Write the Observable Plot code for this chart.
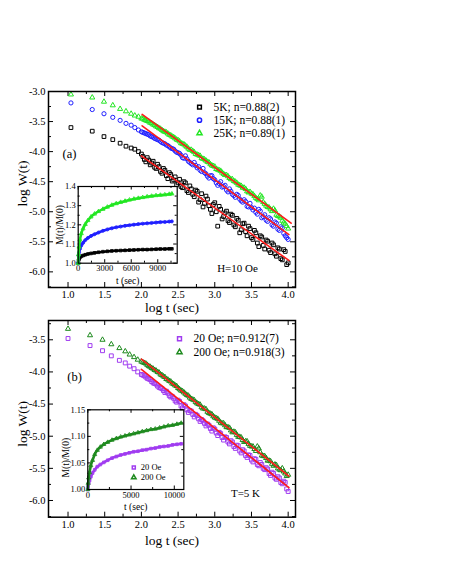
<!DOCTYPE html>
<html><head><meta charset="utf-8">
<script src="https://cdn.jsdelivr.net/npm/d3@7"></script>
<script src="https://cdn.jsdelivr.net/npm/@observablehq/plot@0.6"></script>
<style>
body{margin:0;background:#fff;}
#wrap{position:relative;width:450px;height:582px;overflow:hidden;background:#fff;}
#wrap svg{position:absolute;}
</style></head><body><div id="wrap"></div>
<script>
// ---------- Panel (a) main: log W(t) vs log t ----------
const logT_a = [1.04,1.33,1.49,1.61,1.71,1.79,1.86,1.91,1.96,
  2.00,2.04,2.08,2.12,2.16,2.20,2.24,2.28,2.32,2.36,2.40,2.44,2.48,2.52,2.56,2.60,2.64,2.68,2.72,2.76,2.80,2.84,2.88,2.92,2.96,
  3.00,3.04,3.08,3.12,3.16,3.20,3.24,3.28,3.32,3.36,3.40,3.44,3.48,3.52,3.56,3.60,3.64,3.68,3.72,3.76,3.80,3.84,3.88,3.92,3.96,4.00];
const logW_5K = [-3.60,-3.66,-3.75,-3.80,-3.86,-3.91,-3.94,-3.96,-4.00,
  -4.04,-4.13,-4.10,-4.22,-4.16,-4.28,-4.25,-4.36,-4.31,-4.45,-4.38,-4.47,-4.55,-4.46,-4.60,-4.52,-4.68,-4.62,-4.75,-4.66,-4.80,-4.92,-4.74,-4.90,-5.03,
  -4.85,-5.24,-4.96,-5.08,-4.99,-5.18,-5.06,-5.25,-5.14,-5.30,-5.19,-5.40,-5.28,-5.46,-5.35,-5.58,-5.42,-5.62,-5.49,-5.68,-5.55,-5.74,-5.62,-5.80,-5.66,-5.85];
const logW_15K = [-3.19,-3.30,-3.37,-3.43,-3.48,-3.53,-3.56,-3.60,-3.64,
  -3.67,-3.69,-3.71,-3.74,-3.76,-3.79,-3.81,-3.85,-3.87,-3.90,-3.94,-3.96,-4.01,-4.03,-4.10,-4.07,-4.16,-4.20,-4.18,-4.27,-4.31,-4.28,-4.37,-4.44,-4.40,
  -4.47,-4.56,-4.50,-4.58,-4.64,-4.62,-4.71,-4.76,-4.73,-4.82,-4.80,-4.91,-4.86,-4.97,-5.01,-4.96,-5.10,-5.05,-5.16,-5.12,-5.24,-5.19,-5.31,-5.27,-5.40,-5.46];
const logW_25K = [-3.05,-3.10,-3.17,-3.23,-3.29,-3.33,-3.37,-3.40,-3.42,
  -3.45,-3.47,-3.49,-3.52,-3.55,-3.58,-3.61,-3.64,-3.67,-3.70,-3.73,-3.76,-3.80,-3.83,-3.87,-3.90,-3.95,-3.97,-4.01,-4.05,-4.07,-4.12,-4.15,-4.18,-4.23,
  -4.25,-4.30,-4.32,-4.37,-4.39,-4.44,-4.46,-4.50,-4.55,-4.57,-4.60,-4.66,-4.67,-4.71,-4.77,-4.81,-4.75,-4.87,-4.92,-4.96,-4.95,-5.05,-5.08,-5.15,-5.20,-5.28];
// in-between measurement times (dense region)
const logT_a2 = [2.02,2.06,2.10,2.14,2.18,2.22,2.26,2.30,2.34,2.38,2.42,2.46,2.50,2.54,2.58,2.62,2.66,2.70,2.74,2.78,2.82,2.86,2.90,2.94,2.98,
  3.02,3.06,3.10,3.14,3.18,3.22,3.26,3.30,3.34,3.38,3.42,3.46,3.50,3.54,3.58,3.62,3.66,3.70,3.74,3.78,3.82,3.86,3.90,3.94,3.98];
const logW_5K_2 = [-4.08,-4.17,-4.14,-4.19,-4.26,-4.21,-4.33,-4.28,-4.40,-4.35,-4.49,-4.42,-4.52,-4.58,-4.50,-4.65,-4.57,-4.71,-4.64,-4.84,-4.70,-4.86,-4.79,-4.96,-4.88,
  -5.00,-4.91,-5.12,-5.02,-5.15,-5.04,-5.22,-5.11,-5.35,-5.20,-5.33,-5.24,-5.43,-5.31,-5.52,-5.40,-5.56,-5.47,-5.64,-5.52,-5.70,-5.60,-5.78,-5.63,-5.88];
const logW_15K_2 = [-3.68,-3.70,-3.72,-3.75,-3.78,-3.80,-3.83,-3.86,-3.89,-3.92,-3.95,-3.99,-4.02,-4.06,-4.11,-4.12,-4.18,-4.22,-4.23,-4.25,-4.33,-4.35,-4.41,-4.40,-4.45,
  -4.52,-4.53,-4.59,-4.56,-4.67,-4.66,-4.73,-4.71,-4.79,-4.84,-4.83,-4.92,-4.93,-4.94,-5.04,-4.99,-5.08,-5.14,-5.10,-5.22,-5.17,-5.29,-5.25,-5.36,-5.43];
const logW_25K_2 = [-3.45,-3.48,-3.50,-3.53,-3.56,-3.59,-3.62,-3.66,-3.68,-3.72,-3.75,-3.78,-3.81,-3.86,-3.88,-3.92,-3.97,-3.99,-4.04,-4.06,-4.11,-4.13,-4.17,-4.21,-4.24,
  -4.29,-4.31,-4.35,-4.39,-4.41,-4.46,-4.49,-4.52,-4.56,-4.60,-4.62,-4.68,-4.70,-4.74,-4.79,-4.73,-4.84,-4.90,-4.93,-4.99,-4.98,-5.07,-5.10,-5.18,-5.24];
// fitted straight lines (end points)
const fit5K_x = [2.00, 4.01],  fit5K_y = [-4.07, -5.81];
const fit15K_x = [2.01, 4.01], fit15K_y = [-3.57, -5.38];
const fit25K_x = [2.01, 4.04], fit25K_y = [-3.38, -5.19];
const legend_a = ["5K; n=0.88(2)", "15K; n=0.88(1)", "25K; n=0.89(1)"];

// ---------- Panel (a) inset: M(t)/M(0) vs t ----------
const tIn_a = [0,40,100,200,350,550,800,1100,1450,1850,2300,2800,3300,3800,4300,4800,5300,5800,6300,6800,7300,7800,8300,8800,9300,9800,10300,10600];
const M_5K  = [1.000,1.015,1.022,1.030,1.036,1.040,1.044,1.048,1.051,1.054,1.057,1.060,1.062,1.064,1.065,1.066,1.067,1.068,1.069,1.070,1.071,1.071,1.072,1.073,1.074,1.074,1.075,1.075];
const M_15K = [1.000,1.040,1.056,1.075,1.092,1.106,1.120,1.132,1.142,1.151,1.160,1.169,1.176,1.182,1.187,1.191,1.195,1.198,1.201,1.204,1.206,1.208,1.210,1.212,1.214,1.215,1.217,1.218];
const M_25K = [1.000,1.045,1.085,1.122,1.155,1.180,1.203,1.223,1.242,1.257,1.270,1.282,1.293,1.303,1.311,1.318,1.324,1.330,1.335,1.339,1.343,1.347,1.350,1.353,1.355,1.357,1.360,1.362];

// ---------- Panel (b) main ----------
const logT_b = [1.00,1.30,1.47,1.59,1.70,1.78,1.84,1.90,1.95,
  2.00,2.04,2.08,2.12,2.16,2.20,2.24,2.28,2.32,2.36,2.40,2.44,2.48,2.52,2.56,2.60,2.64,2.68,2.72,2.76,2.80,2.84,2.88,2.92,2.96,
  3.00,3.04,3.08,3.12,3.16,3.20,3.24,3.28,3.32,3.36,3.40,3.44,3.48,3.52,3.56,3.60,3.64,3.68,3.72,3.76,3.80,3.84,3.88,3.92,3.96,4.00];
const logW_20Oe = [-3.48,-3.59,-3.67,-3.75,-3.82,-3.86,-3.91,-3.95,-4.00,
  -4.04,-4.06,-4.10,-4.12,-4.17,-4.19,-4.24,-4.26,-4.32,-4.33,-4.39,-4.41,-4.47,-4.46,-4.56,-4.53,-4.63,-4.61,-4.70,-4.68,-4.77,-4.76,-4.84,-4.83,-4.92,
  -4.89,-4.99,-4.96,-5.06,-5.02,-5.12,-5.09,-5.19,-5.15,-5.26,-5.23,-5.33,-5.30,-5.40,-5.36,-5.46,-5.44,-5.52,-5.51,-5.61,-5.58,-5.67,-5.65,-5.74,-5.72,-5.86];
const logW_200Oe = [-3.33,-3.43,-3.50,-3.57,-3.63,-3.68,-3.73,-3.77,-3.81,
  -3.84,-3.86,-3.89,-3.92,-3.95,-3.98,-4.01,-4.05,-4.08,-4.12,-4.15,-4.19,-4.22,-4.27,-4.30,-4.34,-4.37,-4.42,-4.44,-4.49,-4.51,-4.57,-4.58,-4.64,-4.66,
  -4.71,-4.73,-4.79,-4.80,-4.86,-4.87,-4.94,-4.94,-5.01,-5.02,-5.09,-5.08,-5.15,-5.16,-5.23,-5.19,-5.30,-5.31,-5.38,-5.39,-5.46,-5.45,-5.52,-5.50,-5.58,-5.60];
const logT_b2 = logT_a2.slice();
const logW_20Oe_2 = [-4.05,-4.08,-4.11,-4.15,-4.18,-4.22,-4.25,-4.29,-4.30,-4.37,-4.38,-4.45,-4.44,-4.53,-4.51,-4.59,-4.60,-4.66,-4.66,-4.73,-4.74,-4.80,-4.81,-4.88,-4.87,
  -4.95,-4.94,-5.02,-5.01,-5.09,-5.07,-5.16,-5.14,-5.23,-5.21,-5.30,-5.29,-5.37,-5.35,-5.44,-5.41,-5.50,-5.49,-5.58,-5.56,-5.65,-5.63,-5.72,-5.70,-5.82];
const logW_200Oe_2 = [-3.85,-3.87,-3.91,-3.94,-3.97,-4.00,-4.04,-4.07,-4.11,-4.14,-4.18,-4.21,-4.25,-4.29,-4.32,-4.36,-4.40,-4.43,-4.47,-4.50,-4.55,-4.57,-4.62,-4.65,-4.69,
  -4.72,-4.76,-4.80,-4.83,-4.86,-4.91,-4.93,-4.98,-5.01,-5.06,-5.08,-5.12,-5.16,-5.20,-5.16,-5.25,-5.31,-5.34,-5.38,-5.43,-5.44,-5.50,-5.53,-5.55,-5.62];
const fit20_x = [2.00, 4.01],  fit20_y = [-3.96, -5.80];
const fit200_x = [2.00, 4.01], fit200_y = [-3.80, -5.62];
const legend_b = ["20 Oe; n=0.912(7)", "200 Oe; n=0.918(3)"];

// ---------- Panel (b) inset ----------
const tIn_b = [0,40,100,200,350,550,800,1100,1450,1850,2300,2800,3300,3800,4300,4800,5300,5800,6300,6800,7300,7800,8300,8800,9300,9800,10300,10800];
const M_20Oe  = [1.000,1.006,1.011,1.017,1.024,1.031,1.037,1.043,1.047,1.051,1.055,1.059,1.062,1.065,1.067,1.069,1.071,1.072,1.074,1.075,1.077,1.078,1.080,1.081,1.082,1.084,1.085,1.086];
const M_200Oe = [1.000,1.012,1.022,1.032,1.045,1.055,1.066,1.074,1.080,1.085,1.089,1.093,1.096,1.099,1.101,1.103,1.105,1.107,1.109,1.111,1.113,1.114,1.116,1.118,1.120,1.121,1.123,1.125];
const legendIn_b = ["20 Oe", "200 Oe"];

// axis ticks
const xMain = [1.0,1.5,2.0,2.5,3.0,3.5,4.0], xMainMinor = [1.25,1.75,2.25,2.75,3.25,3.75];
const yMain_a = [-6.0,-5.5,-5.0,-4.5,-4.0,-3.5,-3.0];
const yMain_b = [-6.0,-5.5,-5.0,-4.5,-4.0,-3.5];
const yMinor = [-6.25,-5.75,-5.25,-4.75,-4.25,-3.75,-3.25];
const xIn_a = [0,3000,6000,9000], xIn_aMinor = [1500,4500,7500,10500];
const yIn_a = [1.0,1.1,1.2,1.3,1.4], yIn_aMinor = [1.05,1.15,1.25,1.35];
const xIn_b = [0,5000,10000], xIn_bMinor = [2500,7500];
const yIn_b = [1.00,1.05,1.10,1.15], yIn_bMinor = [1.025,1.075,1.125];

// ---------- drawing ----------
const FONT = '"Liberation Serif","Times New Roman",serif';
const C = {k:"#000000", b:"#1f1fff", g:"#22e622", red:"#ff1a1a", pu:"#a03cf0", dg:"#1e8a1e"};
const wrap = document.getElementById("wrap");
function place(svg, left, top){ svg.style.left = left+"px"; svg.style.top = top+"px"; wrap.appendChild(svg); }

function tickMarks(W, H, xMaj, xMin, yMaj, yMin, L, l){
  return [
    Plot.tickX(xMaj, {x:d=>d, insetTop:H-L, stroke:"#000"}),
    Plot.tickX(xMaj, {x:d=>d, insetBottom:H-L, stroke:"#000"}),
    Plot.tickX(xMin, {x:d=>d, insetTop:H-l, stroke:"#000"}),
    Plot.tickX(xMin, {x:d=>d, insetBottom:H-l, stroke:"#000"}),
    Plot.tickY(yMaj, {y:d=>d, insetRight:W-L, stroke:"#000"}),
    Plot.tickY(yMaj, {y:d=>d, insetLeft:W-L, stroke:"#000"}),
    Plot.tickY(yMin, {y:d=>d, insetRight:W-l, stroke:"#000"}),
    Plot.tickY(yMin, {y:d=>d, insetLeft:W-l, stroke:"#000"})
  ];
}
function txt(s, o){ return Plot.text([s], {text:d=>d, fill:"#000", textAnchor:"middle", lineAnchor:"middle", ...o}); }

function mainPanel(o){
  const W = o.width - o.ml - o.mr, H = o.height - o.mt - o.mb;
  const marks = [
    ...tickMarks(W, H, xMain, xMainMinor, o.yTicks, yMinor, 5, 3),
    Plot.axisX(xMain, {tickSize:0, tickPadding:3, tickFormat:d=>d.toFixed(1), fontSize:10.5, label:null}),
    Plot.axisY(o.yTicks, {tickSize:0, tickPadding:3, tickFormat:d=>d.toFixed(1), fontSize:10.5, label:null}),
  ];
  o.series.forEach(s=>{
    marks.push(Plot.dot(o.xs, {x:o.xs, y:s.y, symbol:s.symbol, stroke:s.color, fill:"none", r:s.r, strokeWidth:1}));
    marks.push(Plot.dot(o.xs2, {x:o.xs2, y:s.y2, symbol:s.symbol, stroke:s.color, fill:"none", r:s.r, strokeWidth:1}));
  });
  o.fits.forEach(f=>{
    marks.push(Plot.line(f.x, {x:f.x, y:f.y, stroke:C.red, strokeWidth:1.6}));
  });
  o.series.forEach((s,i)=>{
    marks.push(Plot.dot([0], {frameAnchor:"top-left", dx:o.legX, dy:o.legY + i*o.legStep, symbol:s.symbol, stroke:s.color, fill:"none", r:s.r}));
    marks.push(txt(o.legend[i], {frameAnchor:"top-left", dx:o.legX+14, dy:o.legY + i*o.legStep, textAnchor:"start", fontSize:11.5}));
  });
  marks.push(txt(o.tag, {frameAnchor:"top-left", dx:o.tagX, dy:o.tagY, fontSize:12.5}));
  marks.push(txt(o.note, {frameAnchor:"top-left", dx:o.noteX, dy:o.noteY, fontSize:11}));
  marks.push(txt("log W(t)", {frameAnchor:"left", rotate:-90, dx:-26, dy:o.yTitleDy, fontSize:13.5}));
  marks.push(txt("log t (sec)", {frameAnchor:"bottom", dy:o.xTitleDy, fontSize:13.5}));
  marks.push(Plot.frame({stroke:"#000", strokeWidth:1.5}));
  return Plot.plot({
    width:o.width, height:o.height, marginLeft:o.ml, marginRight:o.mr, marginTop:o.mt, marginBottom:o.mb,
    x:{domain:[0.734,4.10]}, y:{domain:o.yDomain},
    style:{fontFamily:FONT, background:"transparent", overflow:"visible", color:"#000"},
    marks
  });
}

function inset(o){
  const W = o.width - o.ml - o.mr, H = o.height - o.mt - o.mb;
  const marks = [
    Plot.frame({fill:"#fff", stroke:"none"}),
    ...tickMarks(W, H, o.xT, o.xTm, o.yT, o.yTm, 3.5, 2),
    Plot.axisX(o.xT, {tickSize:0, tickPadding:2, tickFormat:d=>String(d), fontSize:8.5, label:null}),
    Plot.axisY(o.yT, {tickSize:0, tickPadding:2.5, tickFormat:d=>d.toFixed(o.dec), fontSize:8.5, label:null}),
  ];
  o.series.forEach(s=>{
    marks.push(Plot.line(o.t, {x:o.t, y:s.y, stroke:s.color, strokeWidth:2.6, curve:"monotone-x"}));
    marks.push(Plot.dot(o.t, {x:o.t, y:s.y, symbol:s.symbol, stroke:s.color, fill:"none", r:1.5, strokeWidth:0.9}));
  });
  marks.push(txt("t (sec)", {frameAnchor:"bottom", dy:o.xTitleDy, fontSize:9.5}));
  marks.push(txt("M(t)/M(0)", {frameAnchor:"left", rotate:-90, dx:o.yTitleDx, dy:o.yTitleDy, fontSize:9.5}));
  if (o.legend) o.legend.forEach((l,i)=>{
    const s = o.series[i];
    marks.push(Plot.dot([0], {frameAnchor:"top-left", dx:o.legX, dy:o.legY + i*10, symbol:s.symbol, stroke:s.color, fill:"none", r:1.7}));
    marks.push(txt(l, {frameAnchor:"top-left", dx:o.legX+7, dy:o.legY + i*10, textAnchor:"start", fontSize:8.5}));
  });
  marks.push(Plot.frame({stroke:"#000", strokeWidth:1.2}));
  return Plot.plot({
    width:o.width, height:o.height, marginLeft:o.ml, marginRight:o.mr, marginTop:o.mt, marginBottom:o.mb,
    x:{domain:o.xDomain}, y:{domain:o.yDomain},
    style:{fontFamily:FONT, background:"transparent", overflow:"visible", color:"#000"},
    marks
  });
}

// panel (a)
place(mainPanel({
  width:450, height:320, ml:48, mr:155, mt:91, mb:33, yDomain:[-6.26,-3.0], yTicks:yMain_a, xs:logT_a, xs2:logT_a2,
  series:[{y:logW_5K, y2:logW_5K_2, symbol:"square", color:C.k, r:2.1},{y:logW_15K, y2:logW_15K_2, symbol:"circle", color:C.b, r:2.1},{y:logW_25K, y2:logW_25K_2, symbol:"triangle", color:C.g, r:1.9}],
  fits:[{x:fit5K_x, y:fit5K_y},{x:fit15K_x, y:fit15K_y},{x:fit25K_x, y:fit25K_y}],
  legend:legend_a, legX:151, legY:15.7, legStep:13,
  tag:"(a)", tagX:21, tagY:62, note:"H=10 Oe", noteX:189, noteY:177,
  yTitleDy:-6, xTitleDy:20
}), 0, 0);

// panel (b)
place(mainPanel({
  width:450, height:260, ml:48, mr:155, mt:20, mb:43.3, yDomain:[-6.26,-3.2], yTicks:yMain_b, xs:logT_b, xs2:logT_b2,
  series:[{y:logW_20Oe, y2:logW_20Oe_2, symbol:"square", color:C.pu, r:2.2},{y:logW_200Oe, y2:logW_200Oe_2, symbol:"triangle", color:C.dg, r:1.9}],
  fits:[{x:fit20_x, y:fit20_y},{x:fit200_x, y:fit200_y}],
  legend:legend_b, legX:131, legY:18.3, legStep:13.4,
  tag:"(b)", tagX:26, tagY:56, note:"T=5 K", noteX:197, noteY:173,
  yTitleDy:5, xTitleDy:23
}), 0, 300);

// inset (a)
place(inset({
  width:190, height:120, ml:77.7, mr:13.3, mt:16, mb:27.3, xDomain:[0,11200], yDomain:[1.0,1.4],
  xT:xIn_a, xTm:xIn_aMinor, yT:yIn_a, yTm:yIn_aMinor, dec:1, t:tIn_a,
  series:[{y:M_5K, symbol:"square", color:C.k},{y:M_15K, symbol:"circle", color:C.b},{y:M_25K, symbol:"triangle", color:C.g}],
  xTitleDy:17.5, yTitleDx:-18, yTitleDy:0
}), 0, 170);

// inset (b)
place(inset({
  width:200, height:125, ml:87.3, mr:16.7, mt:14.3, mb:31, xDomain:[0,11100], yDomain:[1.0,1.15],
  xT:xIn_b, xTm:xIn_bMinor, yT:yIn_b, yTm:yIn_bMinor, dec:2, t:tIn_b,
  series:[{y:M_20Oe, symbol:"square", color:C.pu},{y:M_200Oe, symbol:"triangle", color:C.dg}],
  legend:legendIn_b, legX:46, legY:57.7,
  xTitleDy:17, yTitleDx:-22, yTitleDy:8
}), 0, 395);
</script>
</body></html>
